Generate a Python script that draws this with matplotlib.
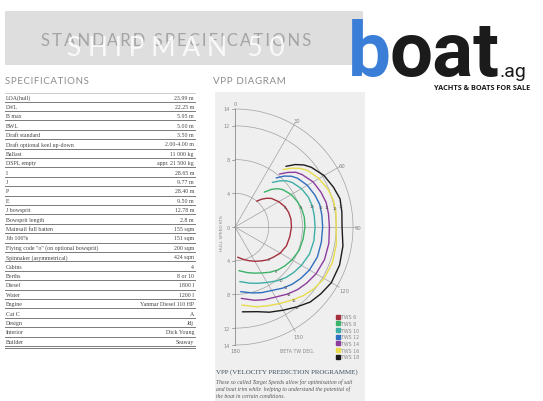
import numpy as np
import matplotlib.pyplot as plt
from matplotlib.patches import Rectangle
from matplotlib.lines import Line2D

# Tabla de especificaciones
spec_names = ['LOA(hull)', 'LWL', 'B max', 'BWL', 'Draft standard',
              'Draft optional keel up-down', 'Ballast', 'DSPL empty', 'I', 'J',
              'P', 'E', 'J bowsprit', 'Bowsprit length', 'Mainsail full batten',
              'Jib 106%', 'Flying code "o" (on optional bowsprit)',
              'Spinnaker (asymmetrical)', 'Cabins', 'Berths', 'Diesel', 'Water',
              'Engine', 'Cat C', 'Design', 'Interior', 'Builder']
spec_values = ['23.99 m', '22.25 m', '5.95 m', '5.00 m', '3.50 m',
               '2.00-4.00 m', '11 000 kg', 'appr. 21 500 kg', '28.65 m', '9.77 m',
               '28.40 m', '9.50 m', '12.78 m', '2.8 m', '155 sqm',
               '151 sqm', '200 sqm', '424 sqm', '4', '8 or 10',
               '1800 l', '1200 l', 'Yanmar Diesel 110 HP', 'A', 'Jdj',
               'Dick Young', 'Seaway']

# Diagrama VPP: velocidad del barco (nudos) por angulo de viento real (grados)
twa = np.array([40, 44, 48, 52, 60, 68, 75, 82, 90, 100, 110, 120, 128, 135, 142, 150, 158, 165, 175])
bsp_tws6 = [4.0, 4.6, 5.1, 5.5, 6.0, 6.4, 6.6, 6.7, 6.7, 6.6, 6.5, 6.2, 5.8, 5.5, 5.1, 4.7, 4.3, 4.0, 3.6]
bsp_tws8 = [5.4, 6.2, 6.8, 7.2, 7.7, 8.0, 8.2, 8.3, 8.3, 8.2, 8.1, 7.8, 7.5, 7.2, 6.8, 6.3, 5.9, 5.6, 5.2]
bsp_tws10 = [6.9, 7.6, 8.2, 8.6, 9.1, 9.4, 9.5, 9.5, 9.5, 9.5, 9.4, 9.1, 8.8, 8.5, 8.1, 7.6, 7.2, 6.9, 6.5]
bsp_tws12 = [7.6, 8.4, 9.0, 9.4, 9.9, 10.2, 10.4, 10.4, 10.4, 10.4, 10.4, 10.2, 9.9, 9.6, 9.2, 8.7, 8.4, 8.1, 7.7]
bsp_tws14 = [8.2, 9.0, 9.7, 10.1, 10.7, 11.0, 11.2, 11.2, 11.2, 11.3, 11.3, 11.1, 10.8, 10.5, 10.1, 9.6, 9.3, 9.0, 8.5]
bsp_tws16 = [8.9, 9.7, 10.4, 10.9, 11.5, 11.9, 12.1, 12.1, 12.0, 12.2, 12.3, 12.2, 11.9, 11.5, 11.0, 10.5, 10.1, 9.8, 9.3]
bsp_tws18 = [9.4, 10.3, 11.0, 11.5, 12.2, 12.6, 12.9, 12.8, 12.7, 13.0, 13.2, 13.2, 12.9, 12.6, 12.0, 11.4, 10.9, 10.4, 10.1]
bsp_all = [bsp_tws6, bsp_tws8, bsp_tws10, bsp_tws12, bsp_tws14, bsp_tws16, bsp_tws18]
tws_labels = ['TWS 6', 'TWS 8', 'TWS 10', 'TWS 12', 'TWS 14', 'TWS 16', 'TWS 18']
tws_marks = ['6', '8', '10', '12', '14', '16', '18']
tws_colors = ['#a3303c', '#3cb26a', '#3daea6', '#2f6fbf', '#8e3c9e', '#e8dc4c', '#1c1c1c']
# angulos de VMG optimo (marcas)
up_mark_deg = [68, 73, 75, 77, 78, 79, 79]
down_mark_deg = [134, 137, 139, 140, 141, 141, 142]

grid_r = [4, 8, 12, 14]
ray_deg = [30, 60, 90, 120, 150]
angle_labels = ['0', '30', '60', '90', '120', '150', '180']
speed_ticks = [14, 12, 8, 4, 0, -4, -8, -12, -14]

W, H = 543, 402
fig = plt.figure(figsize=(W / 100, H / 100), dpi=100)
fig.patch.set_facecolor('white')
bg = fig.add_axes([0, 0, 1, 1])
bg.set_xlim(0, W)
bg.set_ylim(H, 0)
bg.axis('off')

# Cabecera gris
bg.add_patch(Rectangle((5, 12), 358, 54, color='#dedede', lw=0))
bg.text(176, 41, '\u2009'.join('STANDARD SPECIFICATIONS'), ha='center', va='center',
        fontsize=12, color='#a4a4a4', family=['Lato', 'DejaVu Sans'])
bg.text(176, 49, 'S H I P M A N   5 0', ha='center', va='center', fontsize=19,
        color='white', alpha=0.85, family=['Lato', 'DejaVu Sans'])

# Logo
logo_font = ['Roboto', 'DejaVu Sans']
bg.text(391, 76, 'b', ha='right', va='baseline', fontsize=55, fontweight='bold',
        color='#3b7ed8', family=logo_font)
bg.text(390, 76, 'oat', ha='left', va='baseline', fontsize=55, fontweight='bold',
        color='#1b1b1b', family=logo_font)
bg.text(500, 77, '.ag', ha='left', va='baseline', fontsize=14, color='#1b1b1b',
        family=logo_font)
bg.text(530, 89, 'YACHTS & BOATS FOR SALE', ha='right', va='center', fontsize=5.3,
        fontweight='bold', color='#1b1b1b', family=['Open Sans', 'DejaVu Sans'])

# Titulos de seccion
bg.text(5, 82, '\u200a'.join('SPECIFICATIONS'), ha='left', va='center', fontsize=7,
        color='#8c8c8c', family=['Lato', 'DejaVu Sans'])
bg.text(213, 82, '\u200a'.join('VPP DIAGRAM'), ha='left', va='center', fontsize=7,
        color='#8c8c8c', family=['Lato', 'DejaVu Sans'])

# Tabla
row_h = 9.4
bg.plot([5, 195], [93.5, 93.5], color='#bbbbbb', lw=0.5)
for i, (n, v) in enumerate(zip(spec_names, spec_values)):
    y = 98 + i * row_h
    bg.text(6, y, n, ha='left', va='center', fontsize=4.2, color='#444444',
            family='Liberation Serif')
    bg.text(194, y, v, ha='right', va='center', fontsize=4.2, color='#444444',
            family='Liberation Serif')
    bg.plot([5, 195], [y + 4.5, y + 4.5], color='#7a7a7a', lw=0.7)
bg.plot([5, 195], [98 + 26 * row_h + 6.3] * 2, color='#7a7a7a', lw=0.7)

# Panel VPP
bg.add_patch(Rectangle((215, 93), 150, 309, color='#efefef', lw=0))
bg.text(216, 372, 'VPP (VELOCITY PREDICTION PROGRAMME)', ha='left', va='center',
        fontsize=5.0, color='#3e5060', family='Liberation Serif')
desc = ['These so called Target Speeds allow for optimisation of sail',
        'and boat trim while  helping to understand the potential of',
        'the boat in certain conditions.']
for i, line in enumerate(desc):
    bg.text(216, 382 + i * 7.3, line, ha='left', va='center', fontsize=4.1,
            style='italic', color='#555555', family='Liberation Serif')

# Ejes del diagrama polar (coordenadas en nudos)
cx, cy, s = 235, 228, 8.43
xl, yl = (-2.6, 16.4), (-15.6, 15.6)
left = cx + xl[0] * s
right = cx + xl[1] * s
top = cy - yl[1] * s
bottom = cy - yl[0] * s
ax = fig.add_axes([left / W, 1 - bottom / H, (right - left) / W, (bottom - top) / H])
ax.set_xlim(*xl)
ax.set_ylim(*yl)
ax.axis('off')

gc = '#a0a0a0'
th = np.linspace(0, np.pi, 200)
for r in grid_r:
    ax.plot(r * np.sin(th), r * np.cos(th), color=gc, lw=0.5)
for a in ray_deg:
    t = np.radians(a)
    ax.plot([0, 14.3 * np.sin(t)], [0, 14.3 * np.cos(t)], color=gc, lw=0.5)
ax.plot([0, 0], [-14, 14], color='#8a8a8a', lw=0.6)
for v in speed_ticks:
    ax.plot([-0.35, 0], [v, v], color='#8a8a8a', lw=0.5)
    ax.text(-0.6, v, str(abs(v)), ha='right', va='center', fontsize=3.6, color='#888888')
for k, lab in enumerate(angle_labels):
    t = np.radians(k * 30)
    rr = 14.6 if k not in (4, 5) else 15.0
    ax.text(rr * np.sin(t), rr * np.cos(t), lab, ha='center', va='center',
            fontsize=3.8, color='#888888')
ax.text(-1.55, -0.6, 'HULL SPEED KTS', rotation=90, ha='center', va='center',
        fontsize=3.2, color='#888888')
ax.text(7.4, -14.7, 'BETA TW DEG.', ha='center', va='center', fontsize=3.4,
        color='#888888')

t_rad = np.radians(twa)
for bsp, col, mk, ua, da in zip(bsp_all, tws_colors, tws_marks, up_mark_deg, down_mark_deg):
    bsp = np.array(bsp)
    ax.plot(bsp * np.sin(t_rad), bsp * np.cos(t_rad), color=col, lw=1.0,
            solid_capstyle='round', solid_joinstyle='round')
    for ang in (ua, da):
        rm = np.interp(ang, twa, bsp)
        tm = np.radians(ang)
        ax.text(rm * np.sin(tm), rm * np.cos(tm), mk, ha='center', va='center',
                fontsize=2.6, color='#555555')

handles = [Line2D([], [], marker='s', ls='none', color=c, markersize=2.6) for c in tws_colors]
ax.legend(handles, tws_labels, loc='upper left', bbox_to_anchor=(334 / W, 1 - 313 / H),
          bbox_transform=fig.transFigure, frameon=False, fontsize=3.4,
          handlelength=0.6, handletextpad=0.4, labelspacing=0.35, borderpad=0,
          labelcolor='#888888')

fig.savefig('out.png', dpi=100, facecolor='white')
